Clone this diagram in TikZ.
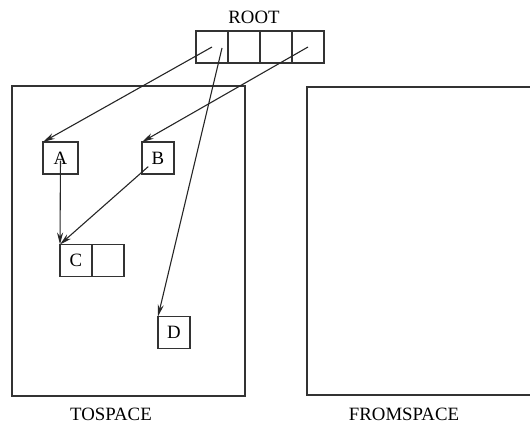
\documentclass[tikz,border=0pt]{standalone}
\usepackage{fontspec}
\setmainfont{Liberation Serif}
\usetikzlibrary{arrows.meta,calc}

\begin{document}
\begin{tikzpicture}[
  x=0.5pt, y=-0.5pt,
  cell/.style={rectangle, draw=black!80, line width=0.55pt, minimum width=16pt, minimum height=16pt,
               inner sep=0pt, outer sep=0pt, font=\fontsize{9.4}{11}\selectfont},
  space/.style={draw=black!80, line width=0.55pt},
  ar/.style={-{Stealth[length=6pt, width=3pt]}, line width=0.55pt, black!85},
  lbl/.style={font=\fontsize{9.4}{11}\selectfont, inner sep=0pt}
]
\clip (0,0) rectangle (530,423);

% the two semispaces
\draw[space] (12,86) rectangle (245,396);
\draw[space] (307,87) rectangle (545,395);
\node[lbl] (tolbl)   at (111,414) {TOSPACE};
\node[lbl] (fromlbl) at (404,414) {FROMSPACE};

% root set
\node[lbl] (rootlbl) at (254,17) {ROOT};
\foreach \i/\x in {1/212,2/244,3/276,4/308}
  \node[cell] (r\i) at (\x,47) {};

% objects
\node[cell, minimum width=17.5pt] (a) at (60.5,158) {A};
\node[cell] (b)  at (158,158) {B};
\node[cell] (c1) at (76,260.5) {C};
\node[cell] (c2) at (108,260.5) {};
\node[cell] (d)  at (174,332.5) {D};

% pointers
\draw[ar] (r1.center) -- (a.north west);
\draw[ar] ($(r1.center)+(10,1)$) -- (d.north west);
\draw[ar] (r4.center) -- (b.north west);
\draw[ar] ($(b.center)!0.1!(c1.north west)$) -- (c1.north west);
\draw[ar] ($(a.center)!0.03!(c1.north west)$) -- (c1.north west);

\end{tikzpicture}
\end{document}
